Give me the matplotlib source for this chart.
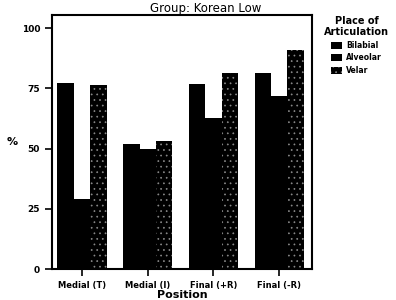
import matplotlib
matplotlib.use("Agg")
import matplotlib.pyplot as plt
import numpy as np

positions = ["Medial (T)", "Medial (l)", "Final (+R)", "Final (-R)"]
places = ["Bilabial", "Alveolar", "Velar"]
bilabial = [77, 51.7, 76.8, 81.5]
alveolar = [29.2, 49.9, 62.6, 72]
velar = [76.5, 53.2, 81.4, 90.8]

plt.rcParams['font.family'] = 'DejaVu Sans'
plt.rcParams['hatch.linewidth'] = 0.5

fig = plt.figure(figsize=(3.96, 3.0), dpi=100)
ax = fig.add_axes([0.131, 0.103, 0.657, 0.847])

x = np.arange(len(positions))
w = 0.25
ax.bar(x - w, bilabial, w, color='black', label=places[0])
ax.bar(x, alveolar, w, color='black', label=places[1])
ax.bar(x + w, velar, w, facecolor='black', hatch='...', edgecolor='#8a8a8a',
       linewidth=0, label=places[2])

ax.set_xlim(-0.46, 3.5)
ax.set_ylim(0, 105.4)
ax.set_yticks([0, 25, 50, 75, 100])
ax.set_xticks(x)
ax.set_xticklabels(positions, fontsize=6, fontweight='bold')
ax.tick_params(axis='y', labelsize=6.5, width=1.2, length=5)
ax.tick_params(axis='x', width=1.2, length=5)
for lbl in ax.get_yticklabels():
    lbl.set_fontweight('bold')
for s in ax.spines.values():
    s.set_linewidth(1.5)

ax.set_xlabel("Position", fontsize=8, fontweight='bold', labelpad=0)
ax.set_ylabel("%", fontsize=8, fontweight='bold', rotation=0, labelpad=7, va='center')
fig.text(0.52, 0.972, "Group: Korean Low", ha='center', va='center', fontsize=8.5)

leg = fig.legend(loc='upper left', bbox_to_anchor=(0.805, 0.965), frameon=False,
                 title="Place of\nArticulation", fontsize=5.5,
                 handlelength=1.4, handleheight=1.0, handletextpad=0.5,
                 labelspacing=0.45, borderpad=0.2)
leg.get_title().set_fontsize(7)
leg.get_title().set_fontweight('bold')
leg.get_title().set_multialignment('center')
for t in leg.get_texts():
    t.set_fontweight('bold')

fig.savefig("out.png", dpi=100)
